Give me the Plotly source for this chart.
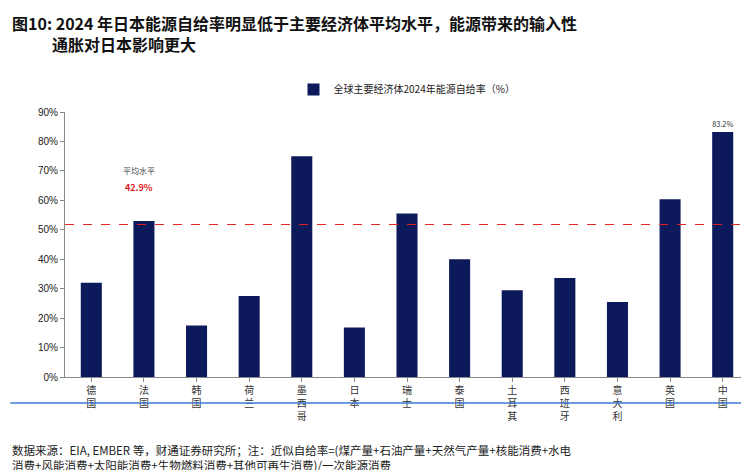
import plotly.graph_objects as go

countries = ['德<br>国', '法<br>国', '韩<br>国', '荷<br>兰', '墨<br>西<br>哥', '日<br>本', '瑞<br>士',
             '泰<br>国', '土<br>耳<br>其', '西<br>班<br>牙', '意<br>大<br>利', '英<br>国', '中<br>国']
rates = [32.0, 53.0, 17.5, 27.5, 75.0, 16.8, 55.5, 40.0, 29.5, 33.6, 25.5, 60.4, 83.2]
avg_line = 51.8
avg_label = '42.9%'
bar_text = [''] * 12 + ['83.2%']

font = 'Noto Sans CJK SC'

fig = go.Figure()
fig.add_trace(go.Bar(x=countries, y=rates, name='全球主要经济体2024年能源自给率（%）',
                     marker=dict(color='#0c1a5c', line=dict(color='#0c1a5c', width=0)),
                     width=0.4, text=bar_text, textposition='outside',
                     textfont=dict(size=11, color='#333'), cliponaxis=False))
fig.add_hline(y=avg_line, line=dict(color='#e02020', width=1, dash='dash'))

fig.add_annotation(x=0.9, y=70, xref='x', yref='y', text='平均水平', showarrow=False,
                   font=dict(size=8, color='#444', family=font))
fig.add_annotation(x=0.9, y=64.5, xref='x', yref='y', text='<b>' + avg_label + '</b>', showarrow=False,
                   font=dict(size=9, color='#e02020', family=font))

fig.add_annotation(x=-0.08, y=1.39, xref='paper', yref='paper', xanchor='left', yanchor='top',
                   align='left', showarrow=False,
                   text='<b>图10: 2024 年日本能源自给率明显低于主要经济体平均水平，能源带来的输入性<br>'
                        '&nbsp;&nbsp;&nbsp;&nbsp;&nbsp;&nbsp;&nbsp;&nbsp;&nbsp;&nbsp;&nbsp;通胀对日本影响更大</b>',
                   font=dict(size=16, color='#111', family=font))
fig.add_annotation(x=-0.08, y=-0.37, xref='paper', yref='paper', xanchor='left', yanchor='bottom',
                   align='left', showarrow=False,
                   text='数据来源：EIA, EMBER 等，财通证券研究所；注：近似自给率=(煤产量+石油产量+天然气产量+核能消费+水电<br>'
                        '消费+风能消费+太阳能消费+生物燃料消费+其他可再生消费)/一次能源消费',
                   font=dict(size=11.5, color='#222', family=font))
fig.add_shape(type='line', xref='paper', yref='paper', x0=-0.08, x1=1.01, y0=-0.098, y1=-0.098,
              line=dict(color='#3a7bd5', width=1.5))

fig.update_layout(
    width=749, height=470, plot_bgcolor='white', paper_bgcolor='white',
    margin=dict(l=57, r=8, t=104, b=101),
    font=dict(family=font, size=10, color='#222'),
    showlegend=True,
    legend=dict(x=0.5, y=1.14, xanchor='center', yanchor='top', orientation='h',
                font=dict(size=10, family=font)),
    bargap=0.6,
    yaxis=dict(range=[0, 90], dtick=10, ticksuffix='%', showgrid=False, showline=True,
               linecolor='#888', ticks='outside', ticklen=4, tickcolor='#888',
               tickfont=dict(family='Arial', size=10)),
    xaxis=dict(showline=True, linecolor='#888', ticks='outside', tickcolor='#888', ticklen=4,
               tickfont=dict(size=10, color='#333')),
)
fig.write_html('out.html')
